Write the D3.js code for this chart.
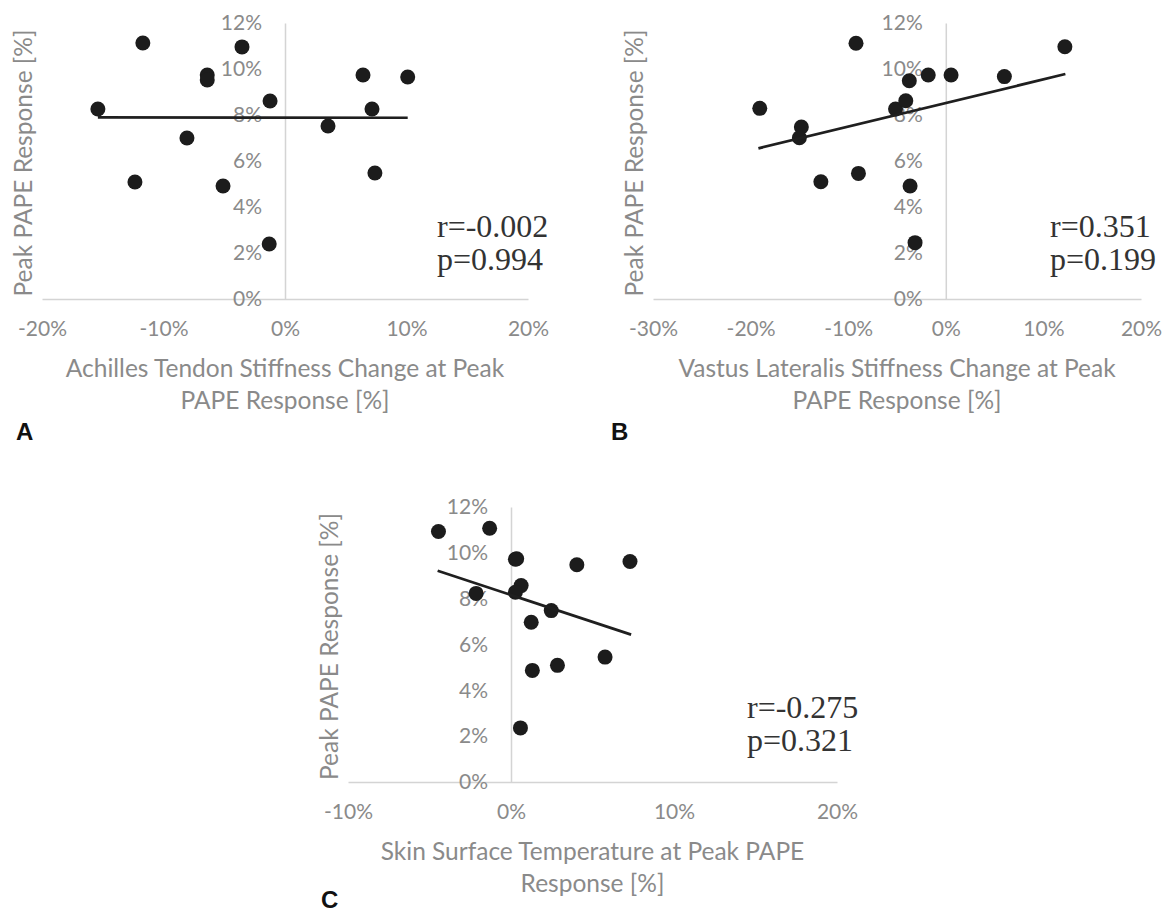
<!DOCTYPE html>
<html>
<head>
<meta charset="utf-8">
<script src="https://cdn.jsdelivr.net/npm/d3@7"></script>
<style>
  body { margin: 0; background: #fff; }
  .tick text { fill: #8a8a8a; font-family: Lato, "Open Sans", sans-serif; font-size: 21px; }
  .domain { stroke: #d4d4d4; stroke-width: 1.5px; }
  .axis-title { fill: #8a8a8a; font-family: Lato, "Open Sans", sans-serif; font-size: 24.5px; }
  .stat { fill: #333; font-family: "Liberation Serif", "Times New Roman", serif; font-size: 32px; }
  .letter { fill: #111; font-family: "Liberation Sans", Arial, sans-serif; font-weight: bold; font-size: 24px; }
</style>
</head>
<body>
<div id="chart-area"></div>
<script>

// Shared y values (Peak PAPE response, %)
var yTicks = [0, 2, 4, 6, 8, 10, 12];

// A - Achilles tendon stiffness change
var achillesTicks = [-20, -10, 0, 10, 20];
var achillesX = [-15.4, -11.7, -12.35, -8.07, -6.4, -6.4, -5.1, -3.54, -1.23, -1.3, 3.54, 6.42, 7.16, 7.4, 10.1];
var achillesY = [8.26, 11.13, 5.09, 7.0, 9.74, 9.52, 4.91, 10.96, 8.61, 2.39, 7.52, 9.74, 8.26, 5.48, 9.65];
var achillesTrendX = [-15.4, 10.1];
var achillesTrendY = [7.9, 7.88];
var achillesStats = ["r=-0.002", "p=0.994"];
var achillesTitle = ["Achilles Tendon Stiffness Change at Peak", "PAPE Response [%]"];

// B - Vastus lateralis stiffness change
var vastusTicks = [-30, -20, -10, 0, 10, 20];
var vastusX = [-19.06, -14.8, -15.0, -12.8, -9.2, -8.95, -5.15, -4.1, -3.74, -3.66, -3.15, -1.8, 0.54, 6.0, 12.2];
var vastusY = [8.29, 7.48, 7.01, 5.1, 11.12, 5.46, 8.26, 8.62, 9.49, 4.91, 2.45, 9.74, 9.74, 9.67, 10.97];
var vastusTrendX = [-19.2, 12.25];
var vastusTrendY = [6.55, 9.78];
var vastusStats = ["r=0.351", "p=0.199"];
var vastusTitle = ["Vastus Lateralis Stiffness Change at Peak", "PAPE Response [%]"];

// C - Skin surface temperature
var skinTicks = [-10, 0, 10, 20];
var skinX = [-4.45, -1.31, 0.27, 0.35, 4.04, 7.3, -2.14, 0.62, 0.27, 2.47, 1.24, 5.77, 2.85, 1.31, 0.58];
var skinY = [10.93, 11.07, 9.72, 9.74, 9.48, 9.62, 8.23, 8.57, 8.28, 7.48, 6.97, 5.45, 5.09, 4.87, 2.36];
var skinTrendX = [-4.5, 7.37];
var skinTrendY = [9.22, 6.43];
var skinStats = ["r=-0.275", "p=0.321"];
var skinTitle = ["Skin Surface Temperature at Peak PAPE", "Response [%]"];

var svg = d3.select("#chart-area").append("svg")
    .attr("width", 1169)
    .attr("height", 914);

function drawPanel(p) {
    var x = d3.scaleLinear()
        .domain(d3.extent(p.ticks))
        .range([p.left, p.right]);
    var y = d3.scaleLinear()
        .domain([0, 12])
        .range([p.bottom, p.top]);

    var g = svg.append("g");

    // x axis sits on 0%, labels under it
    g.append("g")
        .attr("transform", "translate(0," + y(0) + ")")
        .call(d3.axisBottom(x)
            .tickValues(p.ticks)
            .tickSize(0)
            .tickPadding(19)
            .tickFormat(function(d) { return d + "%"; }))
        .call(function(a) { a.selectAll(".tick text").attr("dy", "0.35em").attr("y", 30); });

    // y axis crosses at x = 0
    g.append("g")
        .attr("transform", "translate(" + x(0) + ",0)")
        .call(d3.axisLeft(y)
            .tickValues(yTicks)
            .tickSize(0)
            .tickPadding(23)
            .tickFormat(function(d) { return d + "%"; }));

    g.append("text")
        .attr("class", "axis-title")
        .attr("transform", "rotate(-90)")
        .attr("x", -(p.top + p.bottom) / 2 - 2)
        .attr("y", p.left - 19)
        .attr("dy", "0.35em")
        .attr("text-anchor", "middle")
        .text("Peak PAPE Response [%]");

    g.selectAll(".x-title")
        .data(p.title)
        .enter().append("text")
        .attr("class", "axis-title x-title")
        .attr("x", (p.left + p.right) / 2)
        .attr("y", function(d, i) { return p.bottom + 69 + i * 32; })
        .attr("dy", "0.35em")
        .attr("text-anchor", "middle")
        .text(function(d) { return d; });

    var pts = p.xs.map(function(v, i) { return { x: v, y: p.ys[i] }; });
    g.selectAll("circle")
        .data(pts)
        .enter().append("circle")
        .attr("cx", function(d) { return x(d.x); })
        .attr("cy", function(d) { return y(d.y); })
        .attr("r", 7.5)
        .attr("fill", "#1c1c1c");

    var trend = p.trendX.map(function(v, i) { return [v, p.trendY[i]]; });
    var line = d3.line()
        .x(function(d) { return x(d[0]); })
        .y(function(d) { return y(d[1]); });
    g.append("path")
        .attr("d", line(trend))
        .attr("fill", "none")
        .attr("stroke", "#1f1f1f")
        .attr("stroke-width", 2.7);

    g.selectAll(".stat")
        .data(p.stats)
        .enter().append("text")
        .attr("class", "stat")
        .attr("x", p.statX)
        .attr("y", function(d, i) { return p.statY + i * 33; })
        .text(function(d) { return d; });

    g.append("text")
        .attr("class", "letter")
        .attr("x", p.letterX)
        .attr("y", p.letterY)
        .text(p.letter);
}

drawPanel({
    ticks: achillesTicks, xs: achillesX, ys: achillesY,
    trendX: achillesTrendX, trendY: achillesTrendY,
    stats: achillesStats, title: achillesTitle,
    left: 42, right: 528, top: 23, bottom: 299,
    statX: 437, statY: 237, letter: "A", letterX: 16, letterY: 440
});

drawPanel({
    ticks: vastusTicks, xs: vastusX, ys: vastusY,
    trendX: vastusTrendX, trendY: vastusTrendY,
    stats: vastusStats, title: vastusTitle,
    left: 653, right: 1141, top: 23, bottom: 299,
    statX: 1050, statY: 237, letter: "B", letterX: 611, letterY: 440
});

drawPanel({
    ticks: skinTicks, xs: skinX, ys: skinY,
    trendX: skinTrendX, trendY: skinTrendY,
    stats: skinStats, title: skinTitle,
    left: 348, right: 837, top: 507, bottom: 782,
    statX: 747, statY: 718, letter: "C", letterX: 321, letterY: 908
});
</script>
</body>
</html>
